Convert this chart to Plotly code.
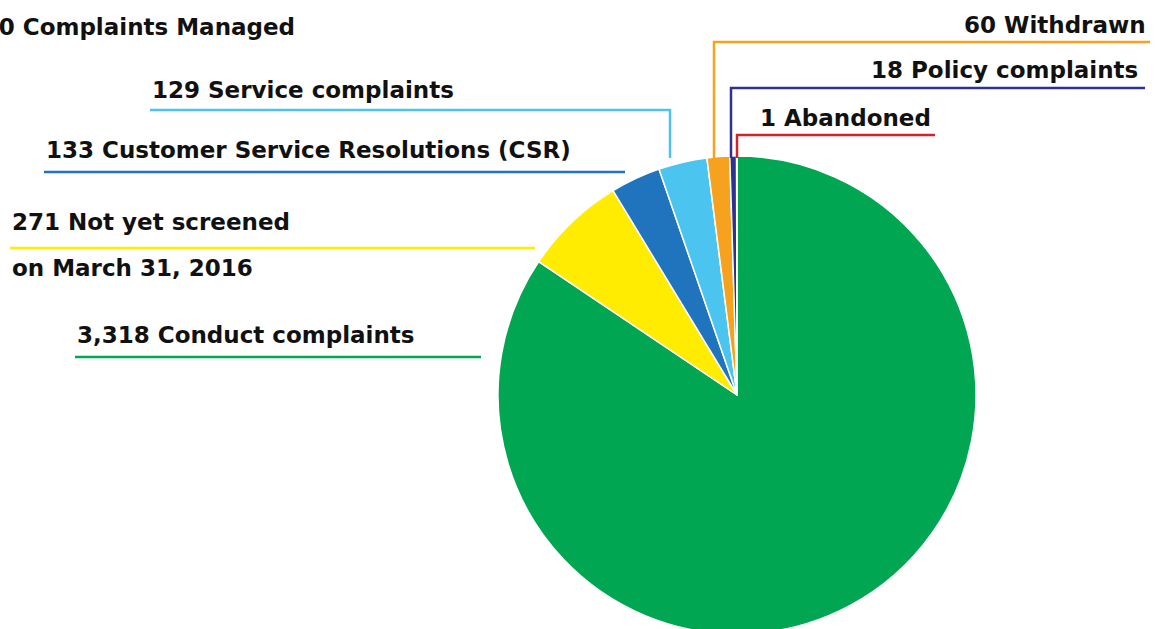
import plotly.graph_objects as go

categories = ["Conduct complaints", "Not yet screened", "Customer Service Resolutions (CSR)",
              "Service complaints", "Withdrawn", "Policy complaints", "Abandoned"]
values = [3318, 271, 133, 129, 60, 18, 1]
colors = ["#00A651", "#FFEC00", "#1F74BD", "#4BC5F0", "#F7A21E", "#2E3192", "#D2232A"]
label_texts = ["3,318 Conduct complaints", "271 Not yet screened", "133 Customer Service Resolutions (CSR)",
               "129 Service complaints", "60 Withdrawn", "18 Policy complaints", "1 Abandoned"]
title_text = "3,930 Complaints Managed"

W, H = 1160, 640

def px(x):
    return x / W

def py(y):
    return 1 - y / H

cx, cy, r = 737, 395, 239

fig = go.Figure(go.Pie(
    labels=categories, values=values, sort=False, direction="clockwise", rotation=0,
    marker=dict(colors=colors, line=dict(color="white", width=1.5)),
    textinfo="none", hoverinfo="label+value", showlegend=False,
    domain=dict(x=[px(cx - r), px(cx + r)], y=[py(cy + r), py(cy - r)]),
))

font = dict(family="DejaVu Sans", size=23, color="#111111", weight="bold")

# (text, x, y, xanchor)
ann = [
    (title_text, 297, 27, "right"),
    (label_texts[4], 1148, 25, "right"),
    (label_texts[5], 1140, 70, "right"),
    (label_texts[6], 758, 118, "left"),
    (label_texts[3], 150, 90, "left"),
    (label_texts[2], 44, 150, "left"),
    (label_texts[1], 10, 222, "left"),
    ("on March 31, 2016", 10, 268, "left"),
    (label_texts[0], 75, 335, "left"),
]
annotations = [dict(text=t, x=px(x), y=py(y), xref="paper", yref="paper", xanchor=a, yanchor="middle",
                    showarrow=False, font=font) for t, x, y, a in ann]

# leader lines: (color, points)
leaders = [
    (colors[4], [(1150, 42), (714, 42), (714, 158)]),
    (colors[5], [(1145, 88), (731, 88), (731, 158)]),
    (colors[6], [(935, 135), (737, 135), (737, 158)]),
    (colors[3], [(150, 110), (670, 110), (670, 158)]),
    (colors[2], [(44, 172), (625, 172)]),
    (colors[1], [(10, 248), (535, 248)]),
    (colors[0], [(75, 357), (481, 357)]),
]
shapes = []
for c, pts in leaders:
    path = "M " + " L ".join(f"{px(x)},{py(y)}" for x, y in pts)
    shapes.append(dict(type="path", path=path, xref="paper", yref="paper",
                       line=dict(color=c, width=2.5)))

fig.update_layout(width=W, height=H, margin=dict(l=0, r=0, t=0, b=0),
                  paper_bgcolor="white", plot_bgcolor="white",
                  annotations=annotations, shapes=shapes)

fig.write_html("out.html", config={"displayModeBar": False},
               post_script="document.body.style.margin='0';document.body.style.overflow='hidden';")
